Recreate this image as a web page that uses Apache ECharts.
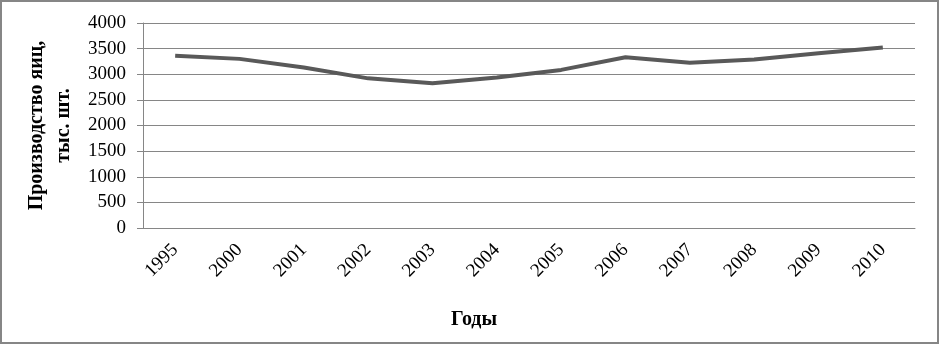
<!DOCTYPE html>
<html><head><meta charset="utf-8">
<script src="https://cdn.jsdelivr.net/npm/echarts@6/dist/echarts.min.js"></script>
<style>
html,body{margin:0;padding:0;background:#fff;}
#c{width:939px;height:344px;box-sizing:border-box;border:2px solid #868686;}
</style></head>
<body><div id="c"></div>
<script>
var years = ['1995','2000','2001','2002','2003','2004','2005','2006','2007','2008','2009','2010'];
var eggs = [3360, 3300, 3130, 2920, 2825, 2935, 3085, 3330, 3225, 3290, 3410, 3520];
var yTicks = {min: 0, max: 4000, interval: 500};
var yTitle = 'Производство яиц,\nтыс. шт.';
var xTitle = 'Годы';

var chart = echarts.init(document.getElementById('c'), null, {renderer: 'canvas'});
var font = '"Liberation Serif", "Times New Roman", serif';
chart.setOption({
  animation: false,
  title: {
    text: xTitle, left: 467, top: 303, textAlign: 'center',
    textStyle: {fontFamily: font, fontSize: 20, fontWeight: 'bold', color: '#000'}
  },
  grid: {left: 141, right: 22, top: 21, bottom: 114, containLabel: false},
  xAxis: {
    type: 'category', data: years, boundaryGap: true,
    axisLine: {lineStyle: {color: '#868686', width: 1}},
    axisTick: {show: false},
    axisLabel: {rotate: 45, color: '#000', fontFamily: font, fontSize: 19, margin: 19, interval: 0}
  },
  yAxis: {
    type: 'value', min: yTicks.min, max: yTicks.max, interval: yTicks.interval,
    axisLine: {show: true, lineStyle: {color: '#868686', width: 1}},
    axisTick: {show: true, length: 6, lineStyle: {color: '#868686'}},
    splitLine: {lineStyle: {color: '#868686', width: 1}},
    axisLabel: {color: '#000', fontFamily: font, fontSize: 19, margin: 17,
      formatter: function (v) { return String(v); }},
    name: yTitle, nameLocation: 'middle', nameGap: 65, nameRotate: 90,
    nameTextStyle: {fontFamily: font, fontSize: 20, fontWeight: 'bold', color: '#000', lineHeight: 27}
  },
  series: [{
    type: 'line', data: eggs, symbol: 'none', smooth: false,
    lineStyle: {color: '#595959', width: 4}
  }]
});
</script></body></html>
